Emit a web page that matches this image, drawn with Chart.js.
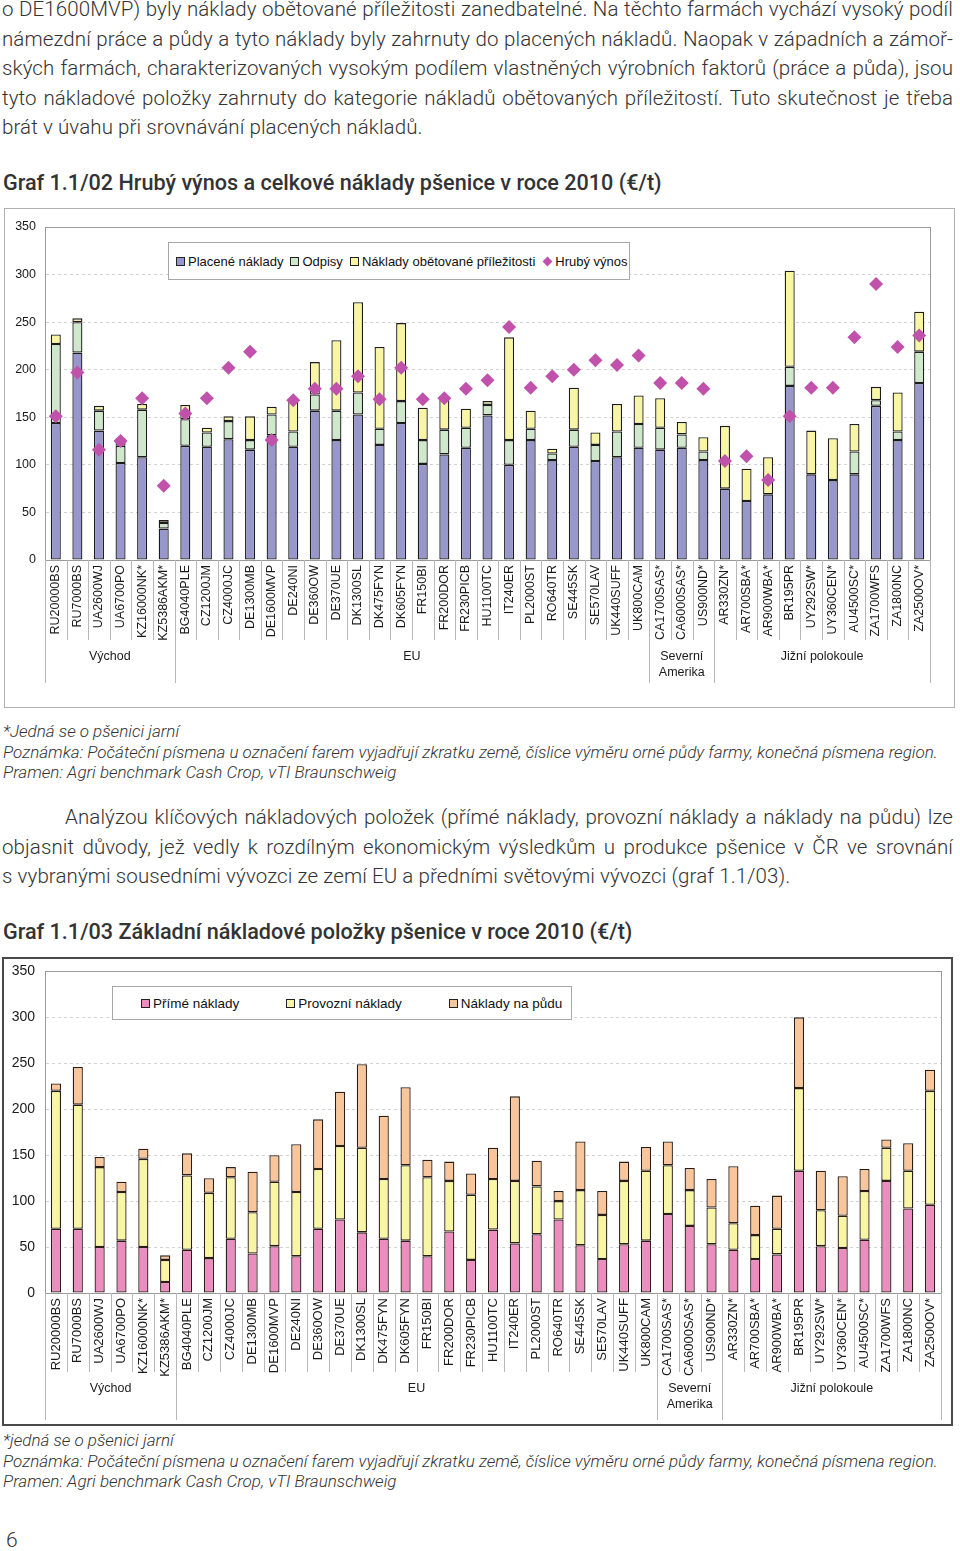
<!DOCTYPE html>
<html lang="cs">
<head>
<meta charset="utf-8">
<script src="https://cdn.jsdelivr.net/npm/chart.js@4.4.1/dist/chart.umd.min.js"></script>
<style>
  body { margin: 0; width: 960px; height: 1551px; position: relative; overflow: hidden; background: #fff;
         font-family: Roboto, "Liberation Sans", sans-serif; color: #333; }
  .txt { position: absolute; left: 2px; width: 951px; font-weight: 300; font-size: 20.5px; letter-spacing: 0.1px; line-height: 29.5px; }
  .txt div { text-align: justify; text-align-last: justify; }
  .txt div.end { text-align-last: left; }
  .title { position: absolute; left: 3px; font-weight: 500; font-size: 21.6px; line-height: 26px; color: #333; }
  .note { position: absolute; left: 3px; font-weight: 300; font-style: italic; font-size: 17px; line-height: 20.5px; color: #333; }
  .box { position: absolute; background: #fff; }
  canvas { display: block; position: absolute; }
  .legend { position: absolute; background: #fff; border: 1px solid #a8a8a8; display: flex; align-items: center;
            font-family: Arial, "Liberation Sans", sans-serif; color: #111; box-sizing: border-box; white-space: nowrap; }
  .legend span.item { display: inline-flex; align-items: center; }
  .legend i { display: inline-block; width: 7px; height: 7px; border: 1px solid #222; margin-right: 3px; }
  .legend i.dia { border: none; width: 7px; height: 7px; transform: rotate(45deg); margin: 0 4px 0 2px; }
</style>
</head>
<body>

<div class="txt" style="top:-5px">
  <div>o DE1600MVP) byly náklady obětované příležitosti zanedbatelné. Na těchto farmách vychází vysoký podíl</div>
  <div>námezdní práce a půdy a tyto náklady byly zahrnuty do placených nákladů. Naopak v západních a zámoř-</div>
  <div>ských farmách, charakterizovaných vysokým podílem vlastněných výrobních faktorů (práce a půda), jsou</div>
  <div>tyto nákladové položky zahrnuty do kategorie nákladů obětovaných příležitostí. Tuto skutečnost je třeba</div>
  <div class="end">brát v úvahu při srovnávání placených nákladů.</div>
</div>

<div class="title" style="top:170px">Graf 1.1/02 Hrubý výnos a celkové náklady pšenice v roce 2010 (€/t)</div>

<div class="box" style="left:4px; top:208px; width:949px; height:498px; border:1px solid #b0b0b0;"></div>
<canvas id="chart1" width="949" height="498" style="left:5px; top:209px;"></canvas>
<div class="legend" id="legend1" style="left:168px; top:242px; width:462px; height:38px; padding-left:7px; gap:7px; font-size:13px;"></div>

<div class="note" style="top:721px">*Jedná se o pšenici jarní<br>Poznámka: Počáteční písmena u označení farem vyjadřují zkratku země, číslice výměru orné půdy farmy, konečná písmena region.<br>Pramen: Agri benchmark Cash Crop, vTI Braunschweig</div>

<div class="txt" style="top:803px">
  <div>&emsp;&emsp;&emsp;Analýzou klíčových nákladových položek (přímé náklady, provozní náklady a náklady na půdu) lze</div>
  <div>objasnit důvody, jež vedly k rozdílným ekonomickým výsledkům u produkce pšenice v ČR ve srovnání</div>
  <div class="end">s vybranými sousedními vývozci ze zemí EU a předními světovými vývozci (graf 1.1/03).</div>
</div>

<div class="title" style="top:919px">Graf 1.1/03 Základní nákladové položky pšenice v roce 2010 (€/t)</div>

<div class="box" style="left:2px; top:957px; width:947px; height:465px; border:2px solid #4a4a4a;"></div>
<canvas id="chart2" width="947" height="471" style="left:4px; top:953px;"></canvas>
<div class="legend" id="legend2" style="left:112px; top:986px; width:460px; height:34px; padding-left:28px; gap:47px; font-size:13.5px;"></div>

<div class="note" style="top:1430px">*jedná se o pšenici jarní<br>Poznámka: Počáteční písmena u označení farem vyjadřují zkratku země, číslice výměru orné půdy farmy, konečná písmena region.<br>Pramen: Agri benchmark Cash Crop, vTI Braunschweig</div>

<div style="position:absolute; left:6px; top:1527px; font-weight:300; font-size:21px; line-height:26px; color:#333;">6</div>

<script>
const farms = ['RU20000BS', 'RU7000BS', 'UA2600WJ', 'UA6700PO', 'KZ16000NK*', 'KZ5386AKM*',
  'BG4040PLE', 'CZ1200JM', 'CZ4000JC', 'DE1300MB', 'DE1600MVP', 'DE240NI', 'DE360OW', 'DE370UE',
  'DK1300SL', 'DK475FYN', 'DK605FYN', 'FR150BI', 'FR200DOR', 'FR230PICB', 'HU1100TC', 'IT240ER',
  'PL2000ST', 'RO640TR', 'SE445SK', 'SE570LAV', 'UK440SUFF', 'UK800CAM',
  'CA1700SAS*', 'CA6000SAS*', 'US900ND*',
  'AR330ZN*', 'AR700SBA*', 'AR900WBA*', 'BR195PR', 'UY292SW*', 'UY360CEN*', 'AU4500SC*',
  'ZA1700WFS', 'ZA1800NC', 'ZA2500OV*'];

// regions under the farm labels (first and last farm index)
const regions = [
  {name: ['Východ'], from: 0, to: 5},
  {name: ['EU'], from: 6, to: 27},
  {name: ['Severní', 'Amerika'], from: 28, to: 30},
  {name: ['Jižní polokoule'], from: 31, to: 40}
];

// graf 1.1/02
const paidCosts = [144, 218, 136, 102, 108, 33, 120, 119, 127, 116, 131, 119, 157, 126, 153, 121, 144, 101, 111, 118, 152,
  100, 126, 105, 119, 104, 108, 118, 116, 118, 105, 75, 62, 69, 183, 90, 84, 90, 162, 126, 186];
const depreciation = [83, 32, 21, 18, 50, 6, 28, 15, 19, 10, 22, 16, 17, 31, 23, 17, 23, 25, 26, 21, 11,
  26, 12, 7, 18, 17, 27, 25, 23, 14, 9, 0, 0, 0, 20, 0, 0, 24, 6, 9, 33];
const opportunityCosts = [10, 4, 5, 8, 6, 3, 15, 5, 5, 25, 8, 32, 34, 74, 95, 86, 82, 34, 35, 20, 4,
  108, 19, 5, 44, 13, 29, 30, 31, 13, 15, 66, 34, 39, 101, 46, 44, 29, 14, 41, 42];
const grossRevenue = [151, 197, 116, 125, 170, 78, 154, 170, 202, 219, 126, 168, 180, 180, 193, 169, 202, 169, 170, 180, 189,
  245, 181, 193, 200, 210, 205, 215, 186, 186, 180, 104, 109, 84, 151, 181, 181, 234, 290, 224, 236];

// graf 1.1/03
const directCosts = [70, 70, 50, 57, 50, 12, 47, 38, 59, 43, 51, 40, 70, 80, 66, 59, 57, 40, 67, 36, 69,
  54, 64, 80, 52, 37, 53, 57, 86, 73, 53, 47, 37, 42, 133, 51, 49, 58, 122, 92, 96];
const operatingCosts = [150, 135, 87, 53, 96, 24, 81, 71, 67, 45, 70, 70, 65, 80, 92, 65, 82, 86, 55, 71, 55,
  68, 52, 20, 60, 48, 69, 76, 53, 39, 40, 29, 26, 28, 90, 39, 35, 53, 36, 41, 124];
const landCosts = [8, 41, 11, 11, 11, 5, 24, 16, 11, 44, 29, 52, 54, 59, 91, 69, 85, 19, 21, 23, 34,
  92, 28, 11, 53, 26, 21, 26, 26, 24, 31, 62, 32, 36, 77, 43, 43, 24, 9, 30, 23];

const yMax = 350;
const yStep = 50;

Chart.defaults.font.family = 'Arial, "Liberation Sans", sans-serif';
Chart.defaults.color = '#1a1a1a';
Chart.defaults.animation = false;

// plot frame, separators between farms and the region names
const regionAxis = {
  id: 'regionAxis',
  afterDraw(chart, args, opts) {
    const {ctx, chartArea: a, scales: {x}} = chart;
    const n = chart.data.labels.length;
    const step = x.getPixelForValue(1) - x.getPixelForValue(0);
    ctx.save();
    ctx.lineWidth = 1;
    ctx.strokeStyle = opts.frameColor;
    ctx.strokeRect(Math.round(a.left) + 0.5, Math.round(a.top) + 0.5, Math.round(a.right - a.left), Math.round(a.bottom - a.top));

    ctx.strokeStyle = opts.sepColor;
    ctx.beginPath();
    for (let i = 0; i <= n; i++) {
      const px = Math.round(x.getPixelForValue(i) - step / 2) + 0.5;
      const big = i === n || regions.some(r => r.from === i);
      ctx.moveTo(px, a.bottom);
      ctx.lineTo(px, a.bottom + (big ? opts.regionLen : opts.sepLen));
    }
    ctx.stroke();

    ctx.fillStyle = '#1a1a1a';
    ctx.font = opts.font;
    ctx.textAlign = 'center';
    ctx.textBaseline = 'middle';
    regions.forEach(r => {
      const cx = (x.getPixelForValue(r.from) + x.getPixelForValue(r.to)) / 2;
      r.name.forEach((line, k) => ctx.fillText(line, cx, a.bottom + opts.labelY + k * opts.lineGap));
    });
    ctx.restore();
  }
};

function scales(yFont, yPad, xFont, left, xHeight) {
  return {
    x: {
      stacked: true,
      grid: {display: false, drawTicks: false},
      border: {color: '#9a9a9a'},
      ticks: {autoSkip: false, minRotation: 90, maxRotation: 90, padding: 5, font: {size: xFont}},
      afterFit: s => { s.height = xHeight; }
    },
    y: {
      stacked: true,
      min: 0,
      max: yMax,
      grid: {color: '#d2d2d2', drawTicks: false},
      border: {color: '#9a9a9a', dash: [3, 3]},
      ticks: {stepSize: yStep, padding: yPad, font: {size: yFont}},
      afterFit: s => { s.width = left; }
    }
  };
}

function htmlLegend(chart, el) {
  chart.data.datasets.forEach(ds => {
    const item = document.createElement('span');
    item.className = 'item';
    const mark = document.createElement('i');
    if (ds.type === 'line') {
      mark.className = 'dia';
      mark.style.background = ds.pointBackgroundColor;
    } else {
      mark.style.background = ds.backgroundColor;
    }
    item.appendChild(mark);
    item.appendChild(document.createTextNode(ds.label));
    el.appendChild(item);
  });
}

const bar1 = {stack: 'costs', order: 1, borderColor: '#1c1c1c', borderWidth: 1.3, borderSkipped: false,
  categoryPercentage: 0.5, barPercentage: 0.93};

const chart1 = new Chart(document.getElementById('chart1'), {
  type: 'bar',
  data: {
    labels: farms,
    datasets: [
      {...bar1, label: 'Placené náklady', data: paidCosts, backgroundColor: '#9797cb'},
      {...bar1, label: 'Odpisy', data: depreciation, backgroundColor: '#cfe8cb'},
      {...bar1, label: 'Náklady obětované příležitosti', data: opportunityCosts, backgroundColor: '#f8f5a4'},
      {type: 'line', label: 'Hrubý výnos', data: grossRevenue, stack: 'revenue', order: 0, showLine: false,
        pointStyle: 'rectRot', pointRadius: 7, pointBackgroundColor: '#c052ab', pointBorderColor: '#c052ab', pointBorderWidth: 0}
    ]
  },
  options: {
    responsive: false,
    layout: {padding: {top: 18, right: 24, left: 0, bottom: 0}},
    scales: scales(12.5, 9, 12.5, 40, 147),
    plugins: {
      legend: {display: false},
      tooltip: {enabled: false},
      regionAxis: {frameColor: '#9a9a9a', sepColor: '#b8b8b8', sepLen: 80, regionLen: 123, labelY: 97, lineGap: 16,
        font: '12.5px Arial, "Liberation Sans", sans-serif'}
    }
  },
  plugins: [regionAxis]
});
htmlLegend(chart1, document.getElementById('legend1'));

const bar2 = {stack: 'costs', borderColor: '#2a1d16', borderWidth: 1.3, borderSkipped: false,
  categoryPercentage: 0.5, barPercentage: 0.93};

const chart2 = new Chart(document.getElementById('chart2'), {
  type: 'bar',
  data: {
    labels: farms,
    datasets: [
      {...bar2, label: 'Přímé náklady', data: directCosts, backgroundColor: '#ec8dc0'},
      {...bar2, label: 'Provozní náklady', data: operatingCosts, backgroundColor: '#f8f5a4'},
      {...bar2, label: 'Náklady na půdu', data: landCosts, backgroundColor: '#f9c69c'}
    ]
  },
  options: {
    responsive: false,
    layout: {padding: {top: 0, right: 10, left: 0, bottom: 0}},
    scales: scales(14, 10, 13, 41, 131),
    plugins: {
      legend: {display: false},
      tooltip: {enabled: false},
      regionAxis: {frameColor: '#9a9a9a', sepColor: '#b8b8b8', sepLen: 79, regionLen: 127, labelY: 96, lineGap: 16,
        font: '12.5px Arial, "Liberation Sans", sans-serif'}
    }
  },
  plugins: [regionAxis]
});
htmlLegend(chart2, document.getElementById('legend2'));
</script>
</body>
</html>
